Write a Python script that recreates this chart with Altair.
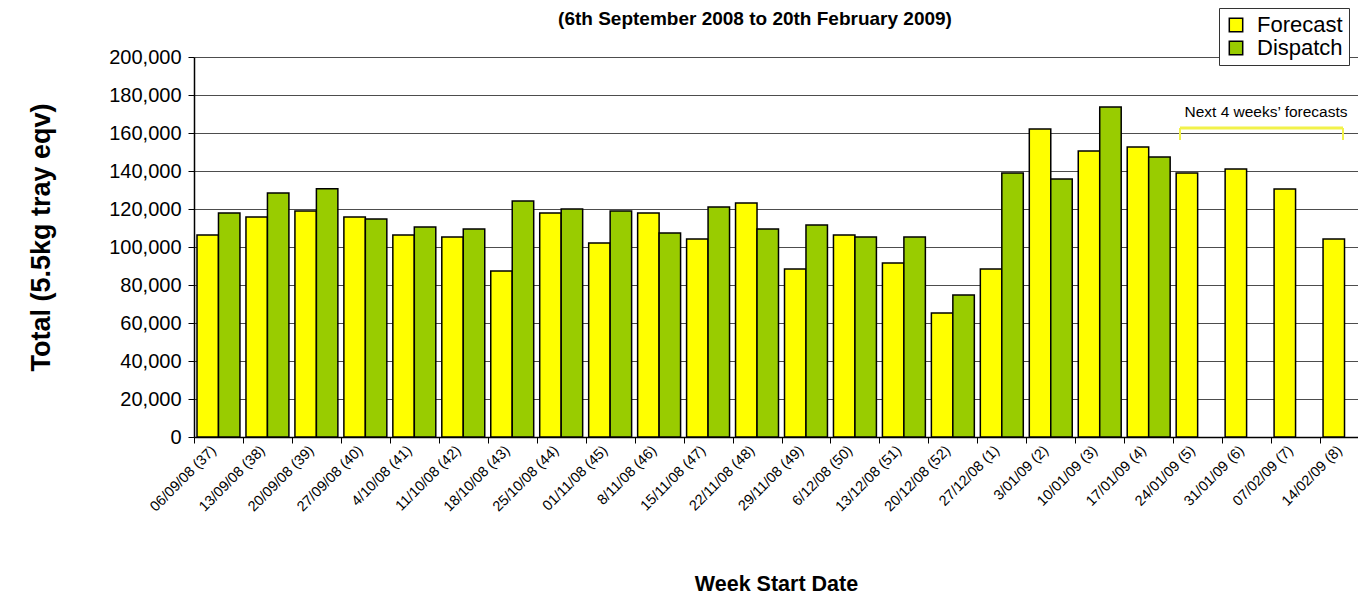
import altair as alt
import pandas as pd

FONT = "Liberation Sans"

weeks = ["06/09/08 (37)", "13/09/08 (38)", "20/09/08 (39)", "27/09/08 (40)",
         "4/10/08 (41)", "11/10/08 (42)", "18/10/08 (43)", "25/10/08 (44)",
         "01/11/08 (45)", "8/11/08 (46)", "15/11/08 (47)", "22/11/08 (48)",
         "29/11/08 (49)", "6/12/08 (50)", "13/12/08 (51)", "20/12/08 (52)",
         "27/12/08 (1)", "3/01/09 (2)", "10/01/09 (3)", "17/01/09 (4)",
         "24/01/09 (5)", "31/01/09 (6)", "07/02/09 (7)", "14/02/09 (8)"]
forecast = [106300, 115800, 118900, 115800, 106300, 105300, 87400, 117900,
            102100, 117900, 104200, 123200, 88400, 106300, 91600, 65300,
            88400, 162100, 150500, 152600, 138900, 141100, 130500, 104200]
dispatch = [117900, 128400, 130700, 114700, 110500, 109500, 124200, 120000,
            118900, 107400, 121100, 109500, 111600, 105300, 105300, 74700,
            138900, 135800, 173700, 147400, None, None, None, None]
series = ["Forecast", "Dispatch"]
colors = ["#FFFF00", "#99CC00"]
y_ticks = [0, 20000, 40000, 60000, 80000, 100000, 120000, 140000, 160000, 180000, 200000]
subtitle = "(6th September 2008 to 20th February 2009)"
note = "Next 4 weeks\u2019 forecasts"

rows = []
for w, f, d in zip(weeks, forecast, dispatch):
    rows.append({"week": w, "series": "Forecast", "value": f})
    if d is not None:
        rows.append({"week": w, "series": "Dispatch", "value": d})
df = pd.DataFrame(rows)

bars = alt.Chart(df).mark_bar(stroke="black", strokeWidth=1.5).encode(
    x=alt.X("week:N", sort=weeks,
            scale=alt.Scale(paddingInner=0, paddingOuter=0, range=[0, 1175]),
            axis=alt.Axis(title="Week Start Date", labelAngle=-45, labelAlign="right",
                          labelBaseline="middle", labelFontSize=14.5, labelFont=FONT,
                          labelColor="black", labelPadding=5, labelOffset=-5,
                          labelOverlap=False, tickBand="extent", tickSize=6,
                          tickColor="black", domainColor="black", domainWidth=1.5,
                          grid=False, titleFont=FONT, titleFontSize=21.5,
                          titleFontWeight="bold", titleColor="black",
                          titleX=582, titleY=153, titleBaseline="alphabetic")),
    xOffset=alt.XOffset("series:N", sort=series,
                        scale=alt.Scale(domain=series, paddingInner=0, paddingOuter=0.14)),
    y=alt.Y("value:Q", scale=alt.Scale(domain=[0, 200000], nice=False),
            axis=alt.Axis(title="Total (5.5kg tray eqv)", values=y_ticks, format=",.0f",
                          labelFont=FONT, labelFontSize=20, labelColor="black",
                          labelPadding=7, tickSize=6, tickColor="black",
                          domainColor="black", domainWidth=1.5,
                          gridColor="#4d4d4d", gridWidth=1,
                          titleFont=FONT, titleFontSize=27, titleFontWeight="bold",
                          titleColor="black", titleX=-153, titleY=180,
                          titleBaseline="middle", titleAlign="center")),
    color=alt.Color("series:N", sort=series,
                    scale=alt.Scale(domain=series, range=colors),
                    legend=alt.Legend(title=None, orient="none", legendX=1025, legendY=-49,
                                      symbolType="square", symbolSize=180,
                                      symbolStrokeColor="black", symbolStrokeWidth=1.5,
                                      labelFont=FONT, labelFontSize=22, labelColor="black",
                                      labelOffset=10, padding=6, rowPadding=1,
                                      fillColor="white", strokeColor="#333333")),
)

one = pd.DataFrame({"t": [subtitle]})
title = alt.Chart(one).mark_text(font=FONT, fontSize=19, fontWeight="bold",
                                 align="center", baseline="alphabetic", color="black").encode(
    x=alt.value(561), y=alt.value(-32), text="t:N")

note_df = pd.DataFrame({"t": [note]})
note_text = alt.Chart(note_df).mark_text(font=FONT, fontSize=15.5, align="center",
                                         baseline="middle", color="black").encode(
    x=alt.value(1072), y=alt.value(55), text="t:N")

bracket_col = "#F2F24A"
b1 = alt.Chart(one).mark_rule(color=bracket_col, strokeWidth=3).encode(
    x=alt.value(986), x2=alt.value(1149), y=alt.value(71))
b2 = alt.Chart(one).mark_rule(color=bracket_col, strokeWidth=2).encode(
    x=alt.value(986), y=alt.value(71), y2=alt.value(83))
b3 = alt.Chart(one).mark_rule(color=bracket_col, strokeWidth=2).encode(
    x=alt.value(1149), y=alt.value(71), y2=alt.value(83))

chart = alt.layer(bars, title, note_text, b1, b2, b3).properties(
    width=1164, height=380,
    autosize=alt.AutoSizeParams(type="none"),
    padding={"left": 186, "top": 49, "right": 0, "bottom": 157},
).configure(font=FONT).configure_view(stroke=None)

chart.save("out.html", embed_options={"renderer": "svg", "actions": False})
